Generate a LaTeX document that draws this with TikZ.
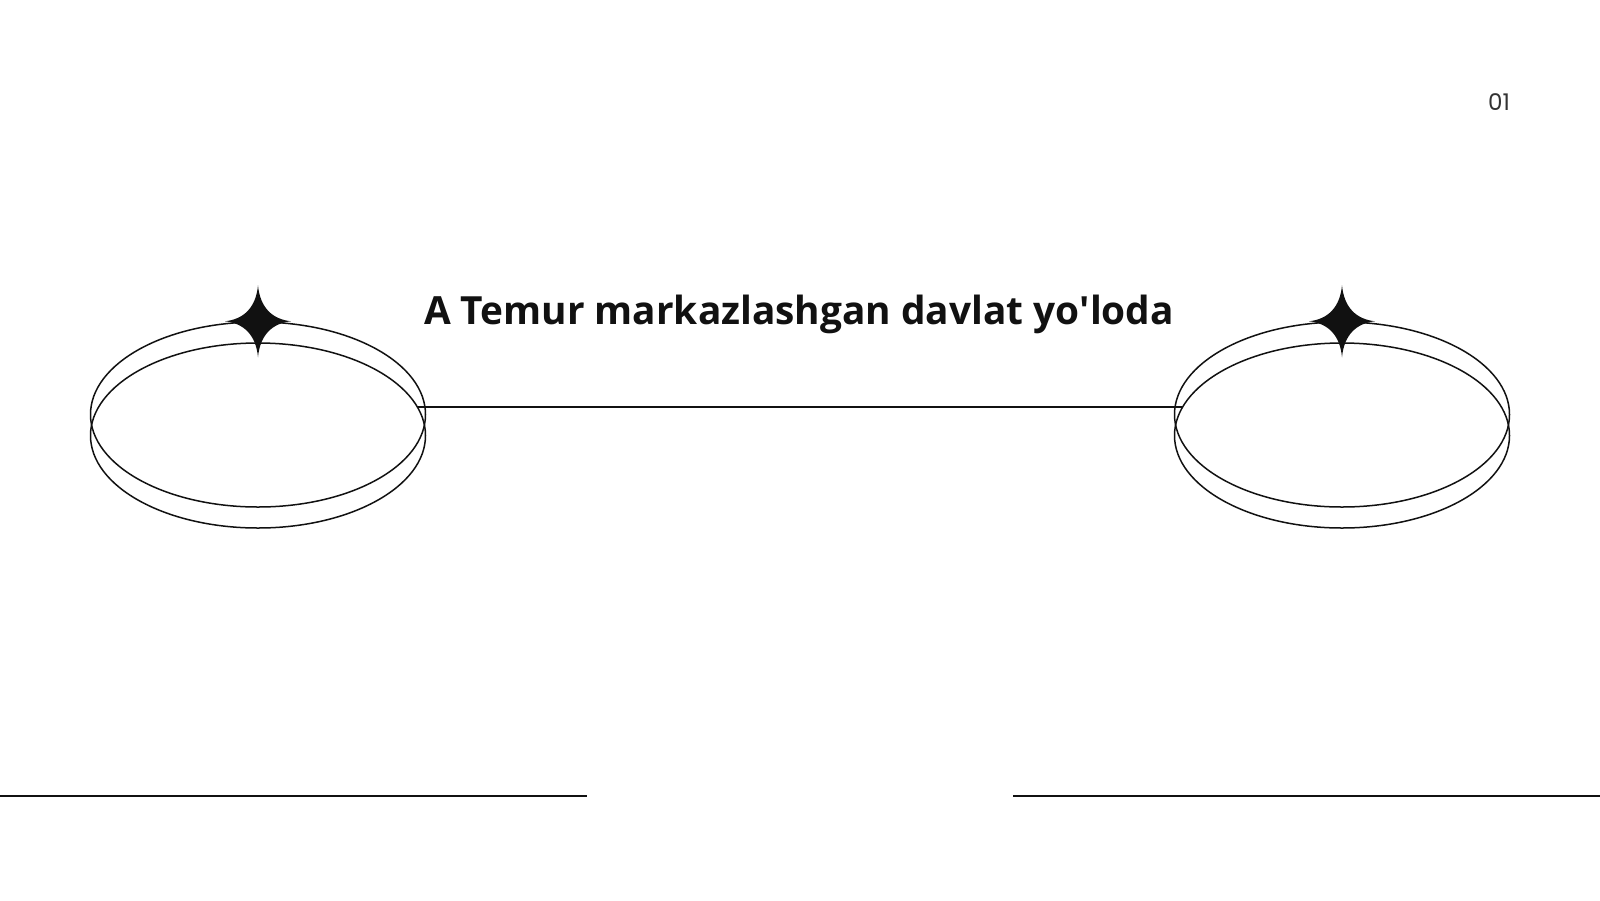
\documentclass[tikz,border=0pt]{standalone}
\usepackage{fontspec}
\setmainfont{Open Sans}
\newfontfamily\numfont{Poppins}
\usetikzlibrary{shapes.geometric}

\definecolor{ink}{HTML}{111111}
\definecolor{numgray}{HTML}{333333}

\tikzset{ring/.style={draw=ink,ellipse,line width=0.75pt,minimum width=167.5pt,minimum height=92.5pt,inner sep=0pt},
         rule/.style={draw=ink,line width=0.75pt},
         pics/sparkle/.style={code={\fill[ink] (0,-36) .. controls (2,-14) and (14,-2) .. (33,0)
                .. controls (14,2) and (2,14) .. (0,36)
                .. controls (-2,14) and (-14,2) .. (-33,0)
                .. controls (-14,-2) and (-2,-14) .. (0,-36) -- cycle;}}}

\begin{document}
\begin{tikzpicture}[x=0.5pt,y=-0.5pt]
        \fill[white] (0,0) rectangle (1600,900);
        \useasboundingbox (0,0) rectangle (1600,900);
        % left ring
        \node[ring] (lupper) at (258,414.5) {};
        \node[ring] (llower) at (258,435.5) {};
        \pic at (lupper.north) {sparkle};
        % right ring
        \node[ring] (rupper) at (1342,414.5) {};
        \node[ring] (rlower) at (1342,435.5) {};
        \pic at (rupper.north) {sparkle};
        \draw[rule] (llower.10) -- (rlower.170 |- llower.10);
        \node[anchor=base,font=\bfseries\fontsize{19.4}{23}\selectfont,text=ink,inner sep=0pt] (title) at (799,324) {A Temur markazlashgan davlat yo\textquotesingle loda};
        \node[font=\numfont\fontsize{11.5}{13}\selectfont,text=numgray,inner sep=0pt] (pnum) at (1499,102) {01};
        % bottom rules
        \draw[rule] (0,796) -- (587,796);
        \draw[rule] (1013,796) -- (1600,796);
    \end{tikzpicture}
\end{document}
